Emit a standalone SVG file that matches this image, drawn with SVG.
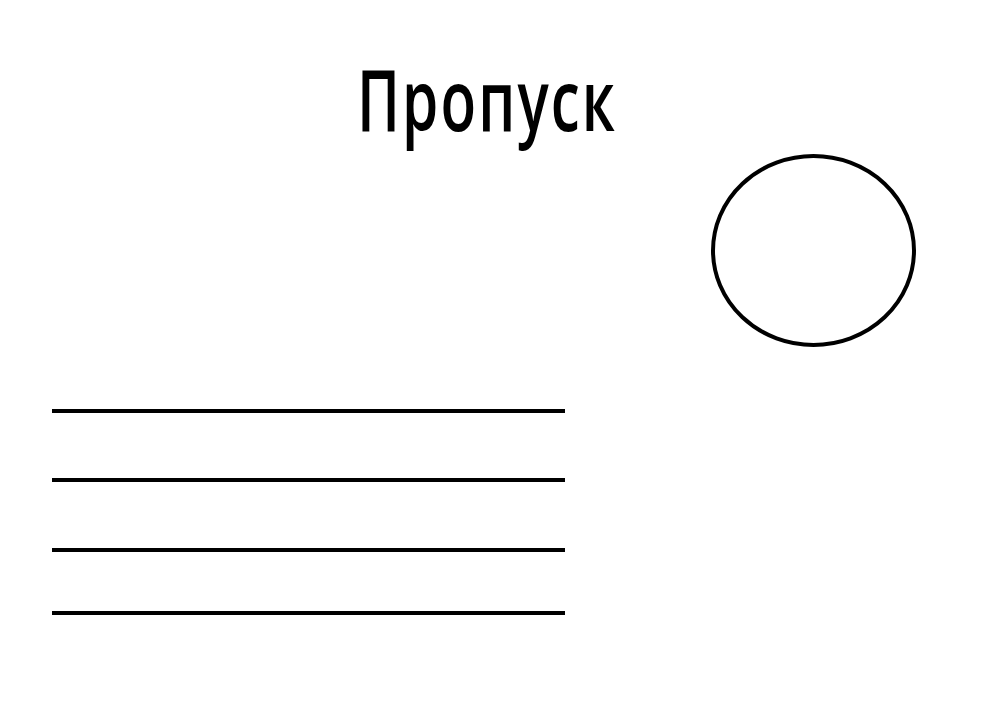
<svg xmlns="http://www.w3.org/2000/svg" width="1000" height="711" viewBox="0 0 1000 711">
<style>
.ln{stroke:#000;stroke-width:4;fill:none}
.title{font-family:"Open Sans","Noto Sans",sans-serif;font-weight:600;font-size:85px;letter-spacing:3px;fill:#000}
</style>
<rect width="1000" height="711" fill="#fff"/>
<g id="title"><text class="title" x="357" y="131" textLength="260" lengthAdjust="spacingAndGlyphs">Пропуск</text></g>
<g id="photo"><ellipse class="ln" cx="813.5" cy="250.5" rx="100.5" ry="94.5"/></g>
<g id="lines">
<line class="ln" x1="52" y1="411" x2="565" y2="411"/>
<line class="ln" x1="52" y1="480" x2="565" y2="480"/>
<line class="ln" x1="52" y1="550" x2="565" y2="550"/>
<line class="ln" x1="52" y1="613" x2="565" y2="613"/>
</g>
</svg>
